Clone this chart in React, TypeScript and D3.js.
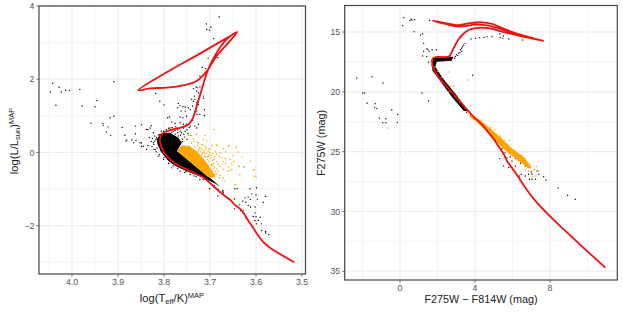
import React from "react";
import * as d3 from "d3";

type P = [number, number];

// ---------- left panel (log Teff, log L)
const hrTicksX = [4.0, 3.9, 3.8, 3.7, 3.6, 3.5];
const hrMinorX = [4.05, 3.95, 3.85, 3.75, 3.65, 3.55];
const hrTicksY = [4, 2, 0, -2];
const hrMinorY = [3, 1, -1, -3];

const hrIsochrone: P[] = [
  [3.517,-2.996],[3.535,-2.87],[3.555,-2.72],[3.572,-2.58],[3.586,-2.42],[3.598,-2.22],[3.608,-2.02],[3.617,-1.86],[3.631,-1.585],[3.646,-1.43],[3.657,-1.284],
  [3.671,-1.157],[3.689,-.965],[3.714,-.692],[3.743,-.51],[3.772,-.328],[3.794,-.10],[3.805,.128],[3.809,.355],
  [3.803,.52],[3.787,.61],[3.765,.674],[3.747,.765],[3.737,.947],[3.729,1.266],[3.718,1.72],[3.704,2.27],[3.686,2.72],
  [3.664,3.09],[3.641,3.29],[3.657,3.04],[3.686,2.63],[3.707,2.22],[3.729,1.95],[3.758,1.83],[3.794,1.77],[3.83,1.75],
  [3.856,1.70],[3.794,2.19],[3.722,2.70],[3.641,3.29],
];
const hrBlackDense: P[] = [
  [3.807,.52],[3.787,.54],[3.769,.40],[3.761,.264],[3.772,.037],[3.758,-.10],[3.732,-.373],[3.691,-.783],[3.678,-.938],
  [3.689,-.847],[3.714,-.692],[3.743,-.555],[3.772,-.39],[3.79,-.237],[3.805,-.009],[3.814,.219],[3.816,.355],
];
const hrOrangeDense: P[] = [
  [3.772,.05],[3.76,.20],[3.745,.18],[3.726,.0],[3.706,-.3],[3.688,-.65],[3.696,-.70],[3.707,-.647],[3.732,-.373],[3.758,-.10],
];
const hrBlack: P[] = [
  [4.047,1.65],[4.042,1.89],[4.028,1.78],[4.023,1.65],[4.014,1.70],[4.006,1.69],[4.035,1.29],[3.983,1.72],[3.978,1.27],[3.95,1.25],
  [3.946,1.42],[3.909,1.93],[3.917,.95],[3.909,.99],[3.959,.80],[3.933,.79],[3.932,.74],[3.922,.70],[3.925,.56],[3.916,.46],
  [3.891,.68],[3.885,.47],[3.881,.34],[3.883,.31],[3.862,.72],[3.849,.76],[3.828,.73],[3.862,.51],[3.87,.34],[3.866,.27],
  [3.861,.33],[3.849,.26],[3.849,.17],[3.835,.19],[3.835,.63],[3.818,1.61],[3.809,1.40],[3.8,1.30],[3.68,3.70],[3.708,3.51],
  [3.698,3.42],[3.707,3.36],[3.701,3.34],[3.692,3.11],[3.686,2.68],[3.683,2.59],[3.704,2.57],[3.717,2.33],[3.71,2.29],[3.699,2.38],
  [3.722,2.09],[3.727,1.97],[3.73,1.79],[3.736,1.74],[3.769,1.34],[3.765,1.28],[3.759,1.25],[3.754,1.24],[3.77,1.22],[3.763,1.13],
  [3.754,1.13],[3.747,1.22],[3.743,1.17],[3.751,.99],[3.759,.95],[3.765,.97],[3.74,1.45],[3.736,1.40],[3.733,1.45],[3.729,1.36],
  [3.725,1.31],[3.714,1.54],[3.714,1.48],[3.712,1.17],[3.712,1.01],[3.729,1.13],[3.728,1.04],[3.738,.88],[3.725,.77],[3.729,.67],
  [3.733,.72],[3.742,.72],[3.751,.77],[3.758,.77],[3.765,.81],[3.776,.79],[3.783,.83],[3.788,.97],[3.792,.95],[3.787,.67],
  [3.772,.67],[3.758,.67],[3.794,.58],[3.78,.58],[3.765,.58],[3.801,.58],[3.809,.49],[3.816,.4],[3.82,.31],[3.822,.22],
  [3.794,.45],[3.78,.45],[3.769,.45],[3.762,.54],[3.754,.58],[3.722,1.79],[3.728,1.77],[3.734,1.54],[3.729,1.68],[3.725,1.63],
  [3.738,1.27],[3.722,1.04],[3.838,.63],[3.83,.67],[3.852,.264],[3.838,.08],[3.845,.173],[3.832,.40],[3.823,.54],[3.823,.264],
  [3.819,.082],[3.812,-.10],[3.801,-.19],[3.783,-.42],[3.765,-.51],[3.743,-.6],[3.722,-.74],[3.703,-.783],[3.691,-.9],[3.682,-1.01],
  [3.672,-1.06],[3.701,-.99],[3.683,-1.19],[3.678,-1.07],[3.671,-1.10],[3.672,-1.04],[3.646,-.99],[3.641,-.99],[3.613,-.99],[3.599,-.965],
  [3.609,-1.13],[3.6,-1.16],[3.579,-1.2],[3.584,-1.36],[3.597,-1.28],[3.624,-1.24],[3.617,-1.22],[3.629,-1.33],[3.622,-1.36],[3.612,-1.28],
  [3.647,-1.27],[3.651,-1.36],[3.641,-1.47],[3.636,-1.43],[3.647,-1.54],[3.617,-1.45],[3.633,-1.59],[3.628,-1.59],[3.628,-1.65],[3.602,-1.49],
  [3.612,-1.49],[3.602,-1.65],[3.622,-1.79],[3.606,-1.75],[3.6,-1.75],[3.591,-1.77],[3.602,-1.86],[3.595,-1.86],[3.599,-1.95],[3.588,-1.95],
  [3.588,-2.13],[3.579,-2.16],[3.572,-2.24],[3.579,-2.2],[3.81,.42],[3.803,.5],[3.815,.12],[3.808,.05],[3.797,-.08],[3.776,-.32],
  [3.752,-.52],[3.73,-.66],[3.775,.5],[3.785,.6],[3.77,.62],
  [3.795,.62],[3.79,.52],[3.783,.55],[3.776,.6],[3.77,.54],[3.764,.47],[3.757,.5],[3.75,.62],[3.745,.68],[3.775,.7],
  [3.782,.68],[3.79,.66],[3.8,.52],[3.806,.58],[3.812,.48],[3.82,.45],[3.818,.36],[3.825,.38],[3.828,.3],[3.826,.16],
  [3.822,.08],[3.817,.02],[3.81,-.06],[3.8,-.14],[3.79,-.3],[3.78,-.37],[3.77,-.44],[3.755,-.55],[3.735,-.64],[3.715,-.74],
  [3.76,.36],[3.755,.42],[3.748,.52],[3.75,.36],[3.76,.3],[3.764,.14],[3.768,.07],[3.755,-.02],[3.745,-.15],
];
const hrOrange: P[] = [
  [3.743,.465],[3.729,.5],[3.736,.374],[3.711,.465],[3.691,.63],[3.725,.264],[3.718,.219],[3.707,.31],[3.696,.19],[3.684,.19],
  [3.672,.10],[3.66,.173],[3.643,.128],[3.638,.01],[3.656,-.19],[3.667,-.173],[3.631,-.118],[3.678,-.009],[3.689,.037],[3.7,-.009],
  [3.711,.082],[3.674,-.146],[3.691,-.191],[3.682,-.328],[3.696,-.328],[3.682,-.51],[3.671,-.464],[3.662,-.51],[3.653,-.464],[3.636,-.39],
  [3.626,-.39],[3.606,-.483],[3.603,-.647],[3.635,-.6],[3.645,-.874],[3.667,-.783],[3.68,-.692],[3.671,-.692],[3.703,-.10],[3.718,-.055],
  [3.714,-.19],[3.725,.037],[3.707,-.464],[3.689,-.6],[3.696,-.51],[3.612,-.24],[3.604,-.47],[3.6,-.67],[3.626,-.4],[3.638,-.355],
  [3.657,-.49],[3.653,-.31],[3.645,-.88],[3.678,-.63],[3.73,.49],[3.747,.46],[3.74,.46],[3.714,.355],[3.727,.28],[3.686,.2],
  [3.643,.145],[3.658,.2],[3.74,.26],[3.735,.3],[3.728,.2],[3.722,.13],[3.73,.02],[3.712,-.02],[3.712,-.1],[3.706,-.2],
  [3.718,.1],[3.71,.16],[3.702,.1],[3.697,-.08],[3.69,-.12],[3.686,-.26],[3.694,-.22],[3.704,.04],[3.7,-.15],[3.692,-.3],
  [3.685,-.45],[3.678,-.38],[3.666,-.3],[3.672,-.24],[3.68,-.12],[3.714,.04],[3.708,.12],[3.7,.08],[3.69,-.4],[3.695,-.36],
  [3.688,-.52],[3.716,.2],[3.708,-.03],[3.702,-.06],[3.694,-.03],[3.686,-.05],[3.66,-.4],[3.648,-.25],[3.65,-.08],[3.665,.02],
  [3.733,.16],[3.724,.08],[3.716,-.01],[3.71,-.12],[3.703,-.24],[3.698,-.34],[3.692,-.46],[3.686,-.58],[3.72,.05],[3.706,-.12],
];

// ---------- right panel (colour, magnitude)
const cmdTicksX = [0, 4, 8];
const cmdMinorX = [-2, 2, 6, 10];
const cmdTicksY = [15, 20, 25, 30, 35];
const cmdMinorY = [17.5, 22.5, 27.5, 32.5];

const cmdIsochrone: P[] = [
  [10.95,34.69],[9.53,32.66],[8.02,30.43],[7.22,29.12],[6.68,28.0],[6.15,26.75],[5.71,25.78],[5.53,25.2],[4.55,23.05],[3.84,21.94],
  [3.13,20.68],[2.42,19.43],[1.97,18.6],[1.74,17.76],[1.71,17.34],[1.85,17.12],[2.6,17.06],[2.77,16.64],[3.04,15.81],[3.31,15.25],
  [3.66,14.83],[4.02,14.67],[4.73,14.67],[5.44,14.97],[6.33,15.31],[7.66,15.75],[6.33,15.22],[5.44,14.78],[4.73,14.47],[4.02,14.39],
  [3.13,14.55],[2.42,14.33],[1.74,14.05],[2.42,14.25],[3.13,14.42],[3.75,14.25],[4.37,14.19],[4.91,14.33],[5.62,14.78],[6.33,15.17],[7.66,15.75],
];
const cmdBlackDense: P[] = [
  [1.74,17.2],[1.96,17.06],[2.84,17.06],[2.76,17.4],[1.96,17.48],[1.88,17.9],[2.32,18.95],[3.0,20.25],[3.62,21.6],[3.4,21.6],
  [2.78,20.45],[2.24,19.3],[1.72,18.2],
];
const cmdOrangeDense: P[] = [
  [3.73,21.8],[4.27,22.36],[4.8,23.05],[5.33,23.75],[5.87,24.58],[6.67,25.56],[7.02,26.39],[6.84,26.39],[6.4,25.84],[5.69,25.0],
  [5.15,24.17],[4.62,23.33],[4.09,22.5],[3.73,22.13],
];
const cmdBlack: P[] = [
  [.2,13.8],[.14,14.47],[.52,14.05],[.59,13.94],[.64,14],[.78,13.97],[.75,14.97],[1.58,14.03],[1.21,15.14],[1.1,15.25],
  [1.26,15.95],[1.26,16.6],[1.44,16.4],[1.49,16.5],[1.56,16.64],[1.71,16.48],[1.94,16.48],[1.21,17.0],[1.42,17.06],[1.53,17.53],
  [-2.31,18.84],[-1.49,18.73],[-.91,19.26],[-1.99,20.1],[-1.88,20.1],[-1.76,20.96],[-1.32,20.99],[-1.35,21.32],[-1.24,21.38],[-.44,21.52],
  [-.12,21.9],[-1.1,22.2],[-.75,22.24],[-.92,22.58],[-.75,22.58],[-.14,22.55],[1.17,20.1],[1.53,20.77],[3.88,18.62],[3.79,15.58],
  [4.02,15.53],[4.25,15.47],[4.48,15.45],[4.64,15.39],[4.91,15.39],[5.32,15.17],[5.35,15.45],[5.48,15.53],[5.51,15.33],[5.8,15.58],
  [6.54,15.67],[2.95,17.06],[3.13,16.78],[3.22,16.5],[3.34,16.23],[3.48,15.95],[2.9,17.2],[3.0,16.9],[3.08,16.95],[3.2,16.7],
  [3.28,16.35],[3.4,16.1],[3.3,16.6],[1.7,17.8],[1.8,18.3],[2.0,18.7],[2.3,19.3],[2.6,19.8],[3.1,20.8],[3.55,21.7],
  [8.43,28.03],[8.94,28.65],[9.35,28.98],[7.79,27.37],[7.66,27.09],[7.4,26.89],[7.22,27.31],[7.04,27.31],[6.9,27.31],[6.68,27.03],
  [6.47,26.89],[6.36,27.03],[6.86,26.89],[7.04,26.89],[7.31,26.61],[6.83,26.06],[6.68,26.2],[6.15,26.2],[5.8,26.33],[5.53,26.2],
  [5.32,25.58],[5.71,25.5],[5.97,25.78],[5.88,25.42],[6.15,25.58],[6.42,25.97],[5.6,25.1],[5.8,25.0],[6.0,25.2],[6.3,25.7],
  [5.45,24.75],[6.6,26.0],[7.0,26.7],[4.1,22.3],[3.9,22.1],
];
const cmdOrange: P[] = [
  [2.6,18.34],[3.63,19.01],[-.64,23.02],[2.68,19.51],[2.86,19.51],[3.75,21.16],[4.37,22.35],[4.82,22.97],[5.35,23.69],[5.83,24.03],
  [5.05,23.19],[2.6,19.99],[7.27,26.25],[7.25,27.03],[7.04,27.09],[6.68,26.53],[7.4,26.61],[6.86,26.61],[6.95,26.2],[7.18,26.47],
  [1.87,17.9],[2.0,18.3],[2.2,18.8],[2.49,19.57],[2.7,20.0],[2.95,20.45],[3.2,20.9],[3.47,21.38],[3.6,21.65],[5.6,24.0],
  [5.1,23.5],[4.5,22.7],[6.1,24.9],[6.5,25.3],[6.9,26.0],[7.1,26.55],
];

const red = "#f50f0f";
const orange = "#ffa500";
const gridC = "#ececec";
const tickC = "#555555";

function Panel(props: {
  x: d3.ScaleLinear<number, number>; y: d3.ScaleLinear<number, number>;
  ticksX: number[]; minorX: number[]; ticksY: number[]; minorY: number[];
  fmtX: (n: number) => string; fmtY: (n: number) => string;
  black: P[]; orangePts: P[]; blackDense: P[]; orangeDense: P[]; iso: P[];
}) {
  const { x, y, ticksX, minorX, ticksY, minorY, fmtX, fmtY, black, orangePts, blackDense, orangeDense, iso } = props;
  const [l, r] = x.range() as number[];
  const [t, b] = y.range() as number[];
  const poly = d3.line<P>().x(d => x(d[0])).y(d => y(d[1])).curve(d3.curveLinearClosed);
  const line = d3.line<P>().x(d => x(d[0])).y(d => y(d[1])).curve(d3.curveCatmullRom.alpha(0.5));
  return (
    <g>
      <rect x={l} y={t} width={r - l} height={b - t} fill="#fff" />
      {minorX.map(v => <line key={"mx" + v} x1={x(v)} x2={x(v)} y1={t} y2={b} stroke={gridC} strokeWidth={0.6} />)}
      {minorY.map(v => <line key={"my" + v} x1={l} x2={r} y1={y(v)} y2={y(v)} stroke={gridC} strokeWidth={0.6} />)}
      {ticksX.map(v => <line key={"gx" + v} x1={x(v)} x2={x(v)} y1={t} y2={b} stroke={gridC} strokeWidth={1.1} />)}
      {ticksY.map(v => <line key={"gy" + v} x1={l} x2={r} y1={y(v)} y2={y(v)} stroke={gridC} strokeWidth={1.1} />)}
      <path d={poly(blackDense) ?? ""} fill="#000" />
      {black.map((d, i) => <circle key={"b" + i} cx={x(d[0])} cy={y(d[1])} r={0.7} fill="#000" />)}
      <path d={poly(orangeDense) ?? ""} fill={orange} />
      {orangePts.map((d, i) => <circle key={"o" + i} cx={x(d[0])} cy={y(d[1])} r={0.75} fill={orange} />)}
      <path d={line(iso) ?? ""} fill="none" stroke={red} strokeWidth={1.8} strokeLinejoin="round" />
      <rect x={l} y={t} width={r - l} height={b - t} fill="none" stroke="#444" strokeWidth={1.2} />
      {ticksX.map(v => (
        <g key={"tx" + v}>
          <line x1={x(v)} x2={x(v)} y1={b} y2={b + 2.7} stroke="#444" strokeWidth={0.7} />
          <text x={x(v)} y={b + 11} textAnchor="middle" fontSize={8.8} fill={tickC}>{fmtX(v)}</text>
        </g>
      ))}
      {ticksY.map(v => (
        <g key={"ty" + v}>
          <line x1={l - 2.7} x2={l} y1={y(v)} y2={y(v)} stroke="#444" strokeWidth={0.7} />
          <text x={l - 4.5} y={y(v) + 3.1} textAnchor="end" fontSize={8.8} fill={tickC}>{fmtY(v)}</text>
        </g>
      ))}
    </g>
  );
}

const minusFmt = (n: number) => String(n).replace("-", "\u2212");

export default function App() {
  const hx = d3.scaleLinear().domain([4, 3.5]).range([72, 302]);
  const hy0 = d3.scaleLinear().domain([4, -2]).range([6, 225.7]);
  const hy = d3.scaleLinear().domain([hy0.invert(6), hy0.invert(274)]).range([6, 274]);
  const hxP = d3.scaleLinear().domain([hx.invert(39), hx.invert(305.5)]).range([39, 305.5]);
  const cx0 = d3.scaleLinear().domain([0, 8]).range([400, 550]);
  const cy0 = d3.scaleLinear().domain([15, 35]).range([32, 271.3]);
  const cx = d3.scaleLinear().domain([cx0.invert(344.7), cx0.invert(617.3)]).range([344.7, 617.3]);
  const cy = d3.scaleLinear().domain([cy0.invert(5.5), cy0.invert(280)]).range([5.5, 280]);
  const font = "Liberation Sans, Arial, sans-serif";
  return (
    <svg width={623} height={312} style={{ position: "absolute", left: 0, top: 0, fontFamily: font }}>
      <rect width={623} height={312} fill="#fff" />
      <Panel x={hxP} y={hy} ticksX={hrTicksX} minorX={hrMinorX} ticksY={hrTicksY} minorY={hrMinorY}
        fmtX={n => n.toFixed(1)} fmtY={minusFmt}
        black={hrBlack} orangePts={hrOrange} blackDense={hrBlackDense} orangeDense={hrOrangeDense} iso={hrIsochrone} />
      <Panel x={cx} y={cy} ticksX={cmdTicksX} minorX={cmdMinorX} ticksY={cmdTicksY} minorY={cmdMinorY}
        fmtX={minusFmt} fmtY={minusFmt}
        black={cmdBlack} orangePts={cmdOrange} blackDense={cmdBlackDense} orangeDense={cmdOrangeDense} iso={cmdIsochrone} />
      <text x={172} y={302} textAnchor="middle" fontSize={11.2} fill="#222">
        log(T<tspan fontSize={7.5} dy={2}>eff</tspan><tspan dy={-2}>/K)</tspan><tspan fontSize={7.5} dy={-4}>MAP</tspan>
      </text>
      <text transform="translate(18,141) rotate(-90)" textAnchor="middle" fontSize={11.2} fill="#222">
        log(L/L<tspan fontSize={7.5} dy={2}>sun</tspan><tspan dy={-2}>)</tspan><tspan fontSize={7.5} dy={-4}>MAP</tspan>
      </text>
      <text x={481} y={303} textAnchor="middle" fontSize={10.8} fill="#222">F275W − F814W (mag)</text>
      <text transform="translate(325,143) rotate(-90)" textAnchor="middle" fontSize={10.8} fill="#222">F275W (mag)</text>
    </svg>
  );
}
